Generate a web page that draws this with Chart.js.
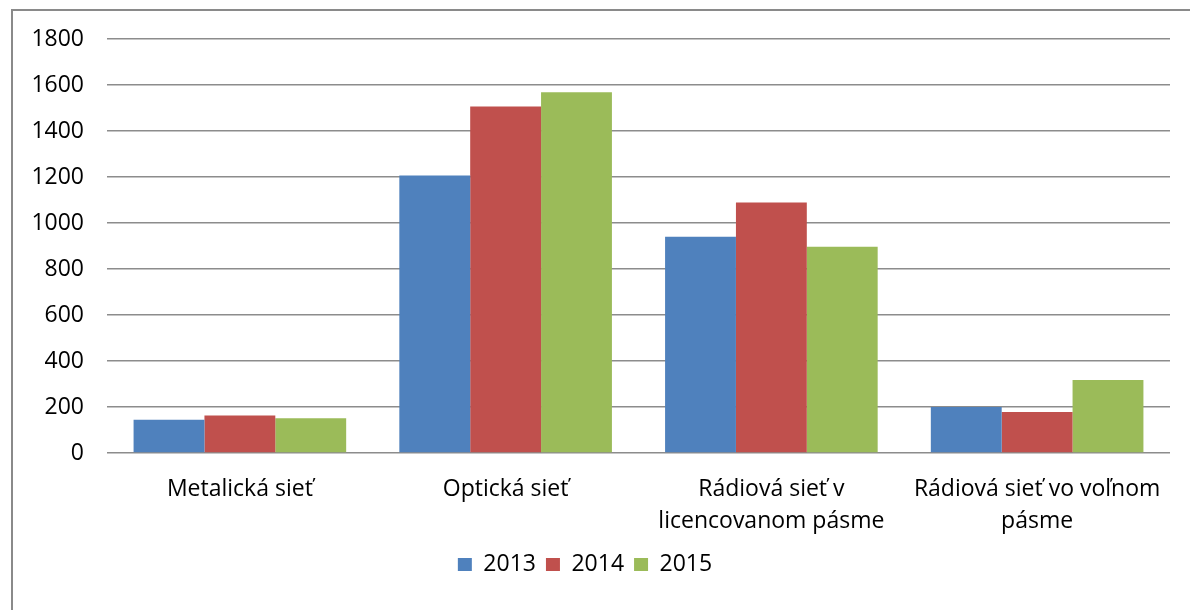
<!DOCTYPE html>
<html>
<head>
<meta charset="utf-8">
<script src="https://cdn.jsdelivr.net/npm/chart.js@4"></script>
<style>
  body { margin: 0; background: #fff; overflow: hidden; }
  .frame { position: absolute; left: 11px; top: 9px; width: 1300px; height: 700px; border: 2px solid #8a8a8a; }
  .wrap { position: absolute; left: 0; top: 0; width: 1190px; height: 610px; }
</style>
</head>
<body>
<div class="frame"></div>
<div class="wrap"><canvas id="chart" width="1190" height="610"></canvas></div>
<script>
// Data
const categories = [
    'Metalická sieť',
    'Optická sieť',
    ['Rádiová sieť v', 'licencovanom pásme'],
    ['Rádiová sieť vo voľnom', 'pásme']
];
const years = ['2013', '2014', '2015'];
const values2013 = [145, 1207, 940, 200];
const values2014 = [163, 1507, 1089, 178];
const values2015 = [151, 1568, 897, 317];
const yTicks = [0, 200, 400, 600, 800, 1000, 1200, 1400, 1600, 1800];

const colors = ['#4F81BD', '#C0504D', '#9BBB59'];

Chart.defaults.font.family = '"Open Sans", "Noto Sans", sans-serif';
Chart.defaults.font.size = 23;
Chart.defaults.color = '#000';

const ctx = document.getElementById('chart').getContext('2d');
new Chart(ctx, {
    type: 'bar',
    data: {
        labels: categories,
        datasets: [values2013, values2014, values2015].map(function(vals, i) {
            return {
                label: years[i],
                data: vals,
                backgroundColor: colors[i],
                barPercentage: 1,
                categoryPercentage: 0.8
            };
        })
    },
    options: {
        responsive: false,
        animation: false,
        layout: { padding: { top: 39, right: 20, left: 0, bottom: 24 } },
        plugins: {
            tooltip: { enabled: false },
            legend: {
                position: 'bottom',
                labels: { boxWidth: 14, boxHeight: 13, padding: 10, font: { size: 23 } }
            }
        },
        scales: {
            y: {
                min: 0,
                max: 1800,
                afterBuildTicks: function(scale) {
                    scale.ticks = yTicks.map(function(v) { return { value: v }; });
                },
                afterFit: function(scale) { scale.width = 107; },
                grid: { color: '#8c8c8c', lineWidth: 1.5, drawTicks: false },
                border: { display: false },
                ticks: {
                    padding: 23,
                    callback: function(v) { return String(v); }
                }
            },
            x: {
                grid: { display: false, drawTicks: false },
                border: { display: false },
                afterFit: function(scale) { scale.height = 90; },
                ticks: { padding: 20, maxRotation: 0, autoSkip: false, font: { size: 23, lineHeight: 1.4 } }
            }
        }
    }
});
</script>
</body>
</html>
